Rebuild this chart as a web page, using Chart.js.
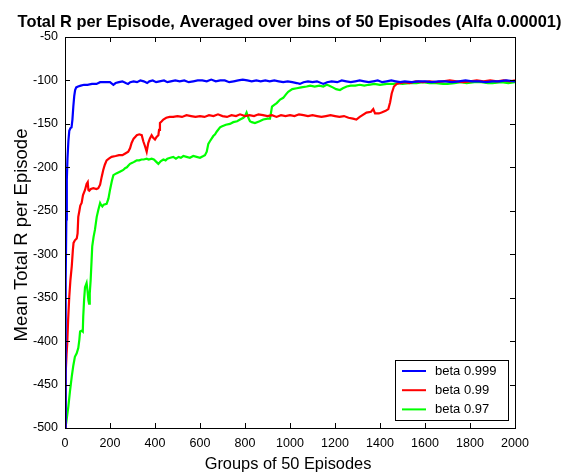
<!DOCTYPE html>
<html>
<head>
<meta charset="utf-8">
<script src="https://cdn.jsdelivr.net/npm/chart.js@4.4.1/dist/chart.umd.min.js"></script>
<style>
  body { margin: 0; background: #fff; }
  #wrap { width: 565px; height: 472px; }
</style>
</head>
<body>
<div id="wrap"><canvas id="rewardChart" width="565" height="472"></canvas></div>
<script>
// Eksen ayarlari
const xTicks = [0, 200, 400, 600, 800, 1000, 1200, 1400, 1600, 1800, 2000];
const yTicks = [-500, -450, -400, -350, -300, -250, -200, -150, -100, -50];
const seriesLabels = ['beta 0.999', 'beta 0.99', 'beta 0.97'];

// [grup, ortalama R] - beta 0.999 (mavi)
const blueData = [
    [0, -500], [2, -420], [4, -330], [6, -260], [8, -215], [11, -190], [15, -170], [19, -158], [24, -155], [29, -154],
    [33, -145], [37, -130], [41, -118], [45, -111], [50, -108], [58, -107], [70, -106], [85, -105], [100, -105], [120, -104],
    [140, -104], [156, -102], [180, -102], [200, -102], [215, -105], [225, -103], [240, -102], [255, -101], [270, -103], [280, -104],
    [290, -102], [305, -101], [320, -102], [335, -100], [350, -101], [365, -103], [375, -101], [390, -100], [405, -102], [420, -101],
    [440, -100], [455, -102], [470, -101], [490, -100], [510, -101], [530, -100], [550, -102], [570, -101], [590, -100], [610, -100],
    [630, -101], [650, -99], [670, -101], [690, -100], [710, -100], [730, -102], [750, -101], [770, -100], [790, -99], [810, -100],
    [830, -101], [850, -100], [870, -101], [890, -100], [910, -101], [930, -100], [950, -101], [970, -102], [990, -101], [1010, -102],
    [1030, -103], [1044, -104], [1060, -102], [1080, -101], [1100, -102], [1120, -101], [1148, -104], [1165, -102], [1185, -101], [1210, -102],
    [1230, -100], [1250, -101], [1270, -102], [1290, -101], [1310, -100], [1330, -101], [1350, -102], [1370, -101], [1390, -100], [1410, -102],
    [1430, -101], [1450, -100], [1470, -101], [1490, -102], [1510, -101], [1540, -102], [1570, -101], [1600, -101], [1630, -102], [1660, -101],
    [1690, -101], [1720, -102], [1750, -101], [1780, -100], [1810, -101], [1840, -101], [1870, -102], [1900, -101], [1930, -101], [1960, -100],
    [2000, -101]
];

// beta 0.99 (kirmizi)
const redData = [
    [0, -500], [2, -470], [4, -437], [7, -415], [10, -402], [14, -375], [19, -349], [24, -330], [30, -314], [35, -295],
    [38, -287], [44, -284], [52, -282], [56, -276], [59, -257], [64, -250], [68, -244], [74, -241], [80, -232], [89, -226],
    [96, -219], [101, -217], [104, -226], [108, -227], [115, -225], [126, -224], [140, -225], [148, -224], [156, -220], [163, -211],
    [170, -203], [177, -197], [185, -192], [195, -190], [207, -188], [225, -187], [240, -186], [255, -186], [268, -184], [281, -182],
    [289, -178], [296, -172], [305, -167], [312, -165], [319, -163], [330, -162], [341, -163], [348, -170], [356, -176], [363, -182],
    [370, -172], [377, -167], [385, -163], [392, -166], [400, -168], [407, -165], [415, -163], [418, -157], [422, -149], [430, -147],
    [437, -145], [450, -143], [465, -142], [481, -142], [500, -141], [520, -142], [540, -140], [560, -141], [580, -142], [600, -141],
    [620, -142], [640, -140], [660, -141], [680, -139], [700, -141], [720, -142], [740, -140], [760, -141], [778, -139], [800, -141],
    [820, -140], [840, -141], [860, -139], [880, -140], [900, -141], [920, -140], [940, -142], [960, -140], [980, -141], [1000, -140],
    [1020, -141], [1040, -139], [1060, -140], [1080, -141], [1100, -140], [1120, -141], [1140, -142], [1160, -141], [1180, -140], [1200, -141],
    [1220, -142], [1240, -141], [1260, -143], [1280, -144], [1295, -145], [1310, -142], [1340, -137], [1360, -136], [1370, -133], [1378, -138],
    [1395, -138], [1407, -137], [1425, -135], [1437, -133], [1445, -125], [1452, -115], [1462, -107], [1474, -104], [1490, -103], [1510, -102],
    [1530, -103], [1560, -101], [1590, -102], [1620, -101], [1650, -102], [1680, -101], [1710, -100], [1740, -101], [1770, -102], [1800, -101],
    [1830, -100], [1860, -101], [1890, -100], [1920, -101], [1950, -100], [1980, -101], [2000, -100]
];

// beta 0.97 (yesil)
const greenData = [
    [0, -500], [5, -495], [10, -485], [15, -475], [22, -458], [30, -441], [37, -428], [44, -418], [52, -414], [59, -408],
    [64, -398], [67, -389], [75, -388], [79, -389], [81, -372], [85, -352], [89, -338], [96, -333], [100, -342], [104, -353],
    [107, -357], [110, -345], [114, -330], [118, -308], [121, -291], [127, -280], [133, -272], [141, -257], [148, -249], [156, -241],
    [160, -243], [166, -245], [172, -243], [185, -242], [193, -236], [200, -226], [208, -216], [215, -209], [228, -207], [244, -205],
    [252, -204], [259, -203], [267, -201], [275, -200], [282, -198], [289, -196], [297, -195], [305, -194], [312, -193], [319, -192],
    [330, -192], [340, -191], [350, -191], [363, -190], [372, -191], [385, -190], [395, -191], [407, -194], [415, -196], [425, -193],
    [437, -191], [447, -192], [455, -190], [468, -189], [481, -188], [493, -190], [505, -188], [515, -189], [526, -187], [540, -188],
    [555, -189], [570, -187], [585, -188], [600, -189], [615, -187], [622, -186], [630, -182], [637, -173], [644, -170], [659, -164],
    [667, -162], [674, -159], [689, -154], [696, -153], [715, -151], [733, -150], [748, -148], [765, -147], [778, -145], [793, -143],
    [800, -141], [807, -137], [815, -143], [822, -147], [830, -148], [844, -149], [865, -147], [881, -145], [900, -144], [911, -144],
    [915, -138], [920, -130], [930, -128], [941, -126], [956, -122], [970, -120], [982, -116], [992, -113], [1010, -110], [1030, -109],
    [1050, -108], [1074, -107], [1090, -106], [1110, -107], [1130, -106], [1148, -107], [1163, -105], [1175, -106], [1190, -108], [1205, -110],
    [1222, -111], [1235, -109], [1252, -107], [1270, -106], [1290, -106], [1310, -105], [1330, -106], [1350, -105], [1375, -104], [1400, -105],
    [1430, -104], [1459, -104], [1480, -103], [1500, -104], [1530, -103], [1563, -103], [1590, -102], [1620, -103], [1650, -103], [1680, -104],
    [1700, -104], [1730, -103], [1760, -102], [1785, -103], [1820, -102], [1850, -102], [1880, -103], [1900, -103], [1940, -102], [1970, -103],
    [2000, -102]
];

const FONT = '"Liberation Sans", Arial, Helvetica, sans-serif';

function toPoints(pairs) {
    return pairs.map(p => ({ x: p[0], y: p[1] }));
}

// Cerceve, iceri bakan tikler, basliklar ve lejant
const matlabAxes = {
    id: 'matlabAxes',
    afterDraw(chart) {
        const ctx = chart.ctx;
        const a = chart.chartArea;
        const xs = chart.scales.x;
        const ys = chart.scales.y;
        ctx.save();
        ctx.strokeStyle = '#000';
        ctx.lineWidth = 1;
        ctx.strokeRect(a.left + 0.5, a.top + 0.5, a.right - a.left, a.bottom - a.top);

        ctx.beginPath();
        xTicks.forEach(v => {
            const px = Math.round(xs.getPixelForValue(v)) + 0.5;
            ctx.moveTo(px, a.bottom); ctx.lineTo(px, a.bottom - 5);
            ctx.moveTo(px, a.top); ctx.lineTo(px, a.top + 5);
        });
        yTicks.forEach(v => {
            const py = Math.round(ys.getPixelForValue(v)) + 0.5;
            ctx.moveTo(a.left, py); ctx.lineTo(a.left + 5, py);
            ctx.moveTo(a.right, py); ctx.lineTo(a.right - 5, py);
        });
        ctx.stroke();

        // baslik ve eksen adlari
        ctx.fillStyle = '#000';
        ctx.textAlign = 'center';
        ctx.textBaseline = 'alphabetic';
        ctx.font = 'bold 16.4px ' + FONT;
        ctx.fillText('Total R per Episode, Averaged over bins of 50 Episodes (Alfa 0.00001)', 289.5, 27);

        ctx.font = '16.4px ' + FONT;
        ctx.fillText('Groups of 50 Episodes', 288, 469);

        ctx.save();
        ctx.translate(27, 235);
        ctx.rotate(-Math.PI / 2);
        ctx.font = '18.5px ' + FONT;
        ctx.fillText('Mean Total R per Episode', 0, 0);
        ctx.restore();

        // lejant
        const lx = 395, ly = 360, lw = 113, lh = 60;
        ctx.fillStyle = '#fff';
        ctx.fillRect(lx, ly, lw, lh);
        ctx.strokeStyle = '#000';
        ctx.lineWidth = 1;
        ctx.strokeRect(lx + 0.5, ly + 0.5, lw, lh);
        ctx.font = '13px ' + FONT;
        ctx.textAlign = 'left';
        ctx.textBaseline = 'middle';
        chart.data.datasets.forEach((ds, i) => {
            const iy = ly + 11 + i * 19.2;
            ctx.strokeStyle = ds.borderColor;
            ctx.lineWidth = 2;
            ctx.beginPath();
            ctx.moveTo(lx + 7, iy); ctx.lineTo(lx + 31, iy);
            ctx.stroke();
            ctx.fillStyle = '#000';
            ctx.fillText(ds.label, lx + 40, iy);
        });
        ctx.restore();
    }
};

new Chart(document.getElementById('rewardChart').getContext('2d'), {
    type: 'line',
    data: {
        datasets: [
            { label: seriesLabels[0], data: toPoints(blueData), borderColor: '#0000ff' },
            { label: seriesLabels[1], data: toPoints(redData), borderColor: '#ff0000' },
            { label: seriesLabels[2], data: toPoints(greenData), borderColor: '#00ff00' }
        ]
    },
    options: {
        responsive: false,
        animation: false,
        devicePixelRatio: 1,
        layout: { padding: { top: 37, right: 50, left: 0, bottom: 0 } },
        elements: {
            point: { radius: 0 },
            line: { borderWidth: 2.2, tension: 0, fill: false }
        },
        plugins: {
            legend: { display: false },
            title: { display: false },
            tooltip: { enabled: false }
        },
        scales: {
            x: {
                type: 'linear',
                min: 0,
                max: 2000,
                afterFit: s => { s.height = 44; },
                afterBuildTicks: s => { s.ticks = xTicks.map(v => ({ value: v })); },
                grid: { display: false, drawTicks: false },
                border: { display: false },
                ticks: { color: '#000', padding: 8, maxRotation: 0, callback: v => String(v), font: { family: FONT, size: 12.5 } }
            },
            y: {
                type: 'linear',
                min: -500,
                max: -50,
                afterFit: s => { s.width = 65; },
                afterBuildTicks: s => { s.ticks = yTicks.map(v => ({ value: v })); },
                grid: { display: false, drawTicks: false },
                border: { display: false },
                ticks: { color: '#000', padding: 7, callback: v => String(v), font: { family: FONT, size: 12.5 } }
            }
        }
    },
    plugins: [matlabAxes]
});
</script>
</body>
</html>
